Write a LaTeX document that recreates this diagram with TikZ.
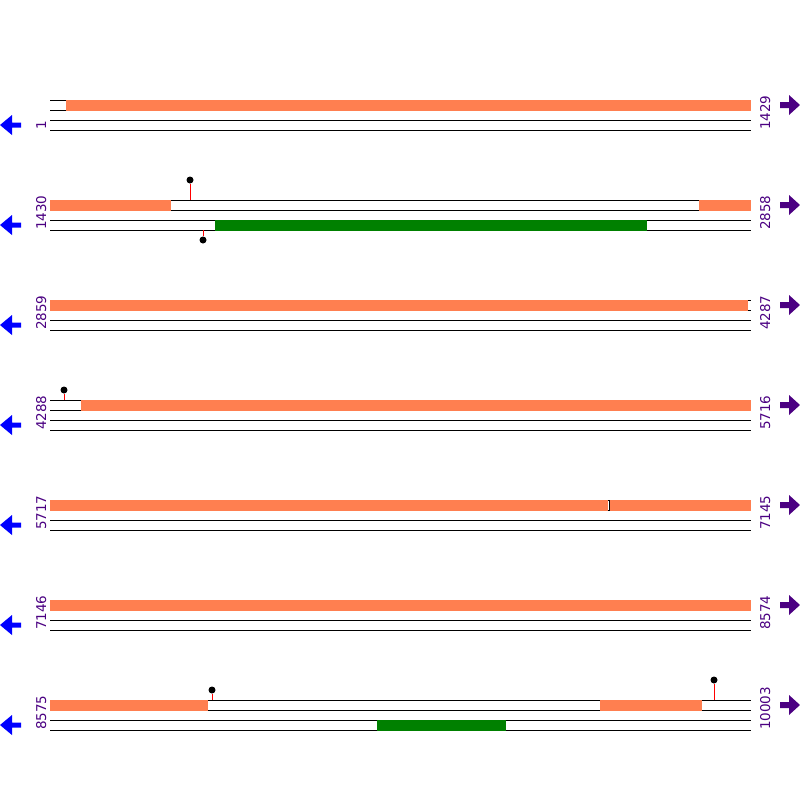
\documentclass[tikz,border=0pt]{standalone}
\usepackage{fontspec}
\setmainfont{DejaVu Sans}
\usetikzlibrary{positioning}
\definecolor{orf}{RGB}{255,127,80}
\definecolor{gene}{RGB}{0,128,0}
\definecolor{pos}{RGB}{75,0,130}
\definecolor{rev}{RGB}{0,0,255}
\tikzset{
  trk/.style={draw=black, line width=1pt},
  % barra de ORF (fita de cima) e gene (fita de baixo)
  orfbar/.style={fill=orf, draw=none},
  genebar/.style={fill=gene, draw=none},
  % pirulito: haste vermelha + bolinha preta
  stem/.style={draw=red, line width=1pt},
  pin/.style={circle, fill=black, inner sep=0pt, minimum size=7pt},
  num/.style={rotate=90, text=pos, font=\fontsize{13.5}{14}\selectfont, inner sep=0pt},
  fwd/.style={fill=pos, draw=none},
  bwd/.style={fill=rev, draw=none}
}

\begin{document}
\begin{tikzpicture}[x=1pt,y=-1pt]
    \useasboundingbox[fill=white] (0,0) rectangle (800,800);

    % linhas: duas fitas, rotulos e setas
    \foreach \r/\lft/\rgt in {0/1/1429, 1/1430/2858, 2/2859/4287, 3/4288/5716,
                              4/5717/7145, 5/7146/8574, 6/8575/10003} {
      \pgfmathsetmacro\b{100+100*\r}
      \draw[trk] (50,\b) -- (751,\b);
      \draw[trk] (50,\b+10) -- (751,\b+10);
      \draw[trk] (50,\b+20) -- (751,\b+20);
      \draw[trk] (50,\b+30) -- (751,\b+30);
      \node[num, anchor=base west] (l\r) at (46,\b+30) {\lft};
      \node[num, anchor=base west] (r\r) at (770,\b+30) {\rgt};
      \fill[bwd] (0,\b+25) -- (12,\b+15) -- (12,\b+22.5) -- (21,\b+22.5)
                 -- (21,\b+27.5) -- (12,\b+27.5) -- (12,\b+35) -- cycle;
      \fill[fwd] (800,\b+5) -- (789,\b-5) -- (789,\b+2) -- (780,\b+2)
                 -- (780,\b+8) -- (789,\b+8) -- (789,\b+15) -- cycle;
    }

    % ORFs
    \fill[orfbar] (66,99.5) rectangle (751,110.5);
    \fill[orfbar] (50,199.5) rectangle (171,210.5);
    \fill[orfbar] (699,199.5) rectangle (751,210.5);
    \fill[orfbar] (50,299.5) rectangle (748,310.5);
    \fill[orfbar] (81,399.5) rectangle (751,410.5);
    \fill[orfbar] (50,499.5) rectangle (607.5,510.5);
    \fill[orfbar] (609.5,499.5) rectangle (751,510.5);
    \draw[black, line width=0.7pt] (609,500) -- (609,510);
    \fill[orfbar] (50,599.5) rectangle (751,610.5);
    \fill[orfbar] (50,699.5) rectangle (208,710.5);
    \fill[orfbar] (600,699.5) rectangle (702,710.5);

    % genes
    \fill[genebar] (215,219.5) rectangle (647,230.5);
    \fill[genebar] (377,719.5) rectangle (506,730.5);

    % marcadores
    \node[pin] (m1) at (190,180) {};
    \draw[stem] (m1) -- (190,200);
    \node[pin] (m2) at (203,240) {};
    \draw[stem] (m2) -- (203,230);
    \node[pin] (m3) at (64,390) {};
    \draw[stem] (m3) -- (64,400);
    \node[pin] (m4) at (212,690) {};
    \draw[stem] (m4) -- (212,700);
    \node[pin] (m5) at (714,680) {};
    \draw[stem] (m5) -- (714,700);
\end{tikzpicture}
\end{document}
